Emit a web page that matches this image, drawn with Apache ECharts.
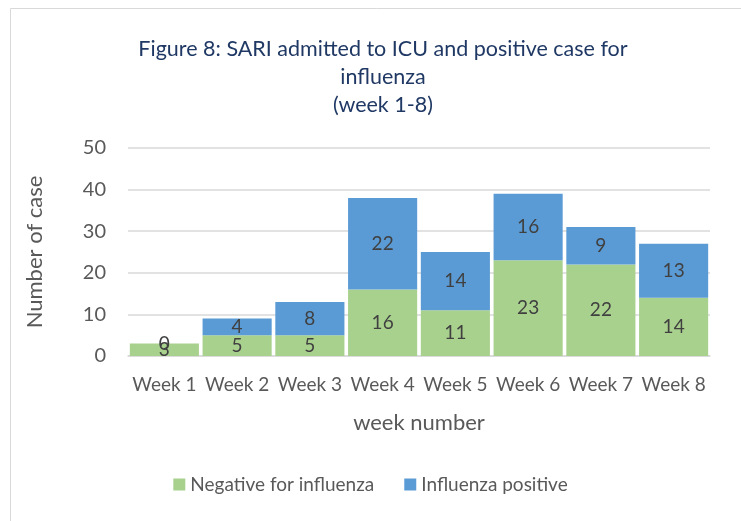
<!DOCTYPE html>
<html><head><meta charset="utf-8">
<script src="https://cdn.jsdelivr.net/npm/echarts@6/dist/echarts.min.js"></script>
<style>html,body{margin:0;padding:0;background:#fff}#c{width:741px;height:521px}</style>
</head><body><div id="c"></div>
<script>
const categories = ['Week 1','Week 2','Week 3','Week 4','Week 5','Week 6','Week 7','Week 8'];
const negative = [3,5,5,16,11,23,22,14];
const positive = [0,4,8,22,14,16,9,13];
const seriesNames = ['Negative for influenza','Influenza positive'];
const yTicks = {min:0,max:50,interval:10};
const FONT = 'Lato, "Open Sans", sans-serif';
const chart = echarts.init(document.getElementById('c'));
const labelStyle = {show:true,position:'inside',color:'#404040',fontSize:19,fontFamily:FONT};
chart.setOption({
  animation:false,
  backgroundColor:'#fff',
  graphic:[{type:'rect',shape:{x:10.5,y:8.5,width:760,height:540},style:{fill:'none',stroke:'#d9d9d9',lineWidth:1}}],
  title:{text:'Figure 8: SARI admitted to ICU and positive case for\ninfluenza\n(week 1-8)',left:378,top:30,textAlign:'center',
    textStyle:{color:'#1F3864',fontSize:21.5,fontWeight:'normal',fontFamily:FONT,lineHeight:28}},
  legend:{bottom:22,left:'center',itemWidth:12,itemHeight:12,itemGap:30,icon:'rect',
    textStyle:{color:'#595959',fontSize:19,fontFamily:FONT}},
  grid:{left:128,right:31,top:148,bottom:165},
  xAxis:{type:'category',data:categories,name:'week number',nameLocation:'middle',nameGap:56,
    nameTextStyle:{color:'#595959',fontSize:22,fontFamily:FONT},
    axisLine:{lineStyle:{color:'#d9d9d9',width:1.5}},axisTick:{show:false},
    axisLabel:{color:'#595959',fontSize:19,fontFamily:FONT,margin:19,interval:0}},
  yAxis:{type:'value',min:yTicks.min,max:yTicks.max,interval:yTicks.interval,name:'Number of case',nameLocation:'middle',nameGap:82,
    nameTextStyle:{color:'#595959',fontSize:22,fontFamily:FONT},
    axisLine:{show:false},axisTick:{show:false},
    axisLabel:{color:'#595959',fontSize:20,fontFamily:FONT,margin:22},
    splitLine:{lineStyle:{color:'#d9d9d9',width:1.5}}},
  series:[
    {name:seriesNames[0],type:'bar',stack:'a',data:negative,barCategoryGap:'5%',itemStyle:{color:'#A9D18E'},label:labelStyle},
    {name:seriesNames[1],type:'bar',stack:'a',data:positive,barCategoryGap:'5%',itemStyle:{color:'#5B9BD5'},label:labelStyle}
  ]
});
</script></body></html>
